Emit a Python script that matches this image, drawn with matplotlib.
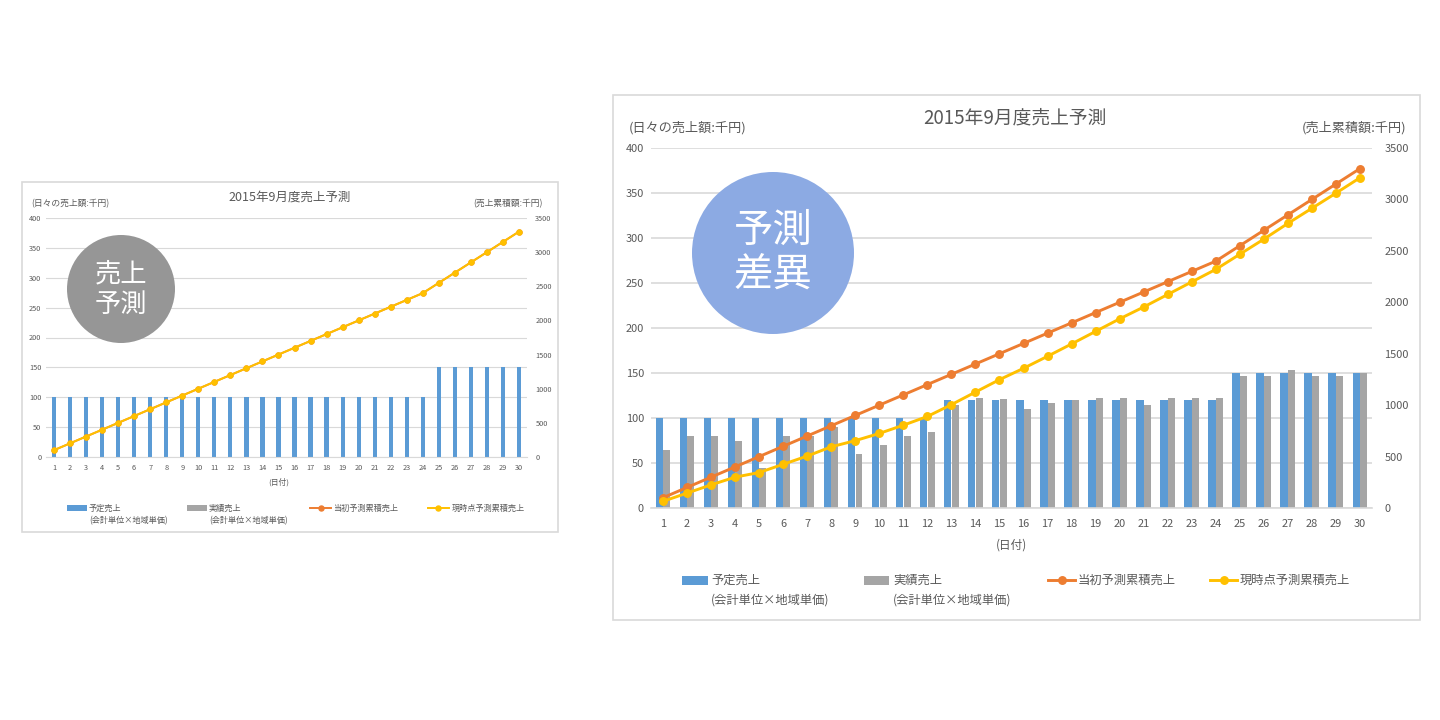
import matplotlib
matplotlib.use('Agg')
import matplotlib.pyplot as plt
from matplotlib.patches import Rectangle, Ellipse
from matplotlib.lines import Line2D

plt.rcParams['font.family'] = ['Noto Sans CJK JP', 'DejaVu Sans']

# ---------------- data ----------------
days = list(range(1, 31))
day_labels = [str(d) for d in days]

left_ticks = [0, 50, 100, 150, 200, 250, 300, 350, 400]
right_ticks = [0, 500, 1000, 1500, 2000, 2500, 3000, 3500]

# chart 1 (売上予測)
c1_planned = [100, 100, 100, 100, 100, 100, 100, 100, 100, 100, 100, 100,
              100, 100, 100, 100, 100, 100, 100, 100, 100, 100, 100, 100,
              150, 150, 150, 150, 150, 150]
c1_orig_cum = [100, 200, 300, 400, 500, 600, 700, 800, 900, 1000, 1100, 1200,
               1300, 1400, 1500, 1600, 1700, 1800, 1900, 2000, 2100, 2200, 2300, 2400,
               2550, 2700, 2850, 3000, 3150, 3300]
c1_curr_cum = [100, 200, 300, 400, 500, 600, 700, 800, 900, 1000, 1100, 1200,
               1300, 1400, 1500, 1600, 1700, 1800, 1900, 2000, 2100, 2200, 2300, 2400,
               2550, 2700, 2850, 3000, 3150, 3300]

# chart 2 (予測差異)
c2_planned = [100, 100, 100, 100, 100, 100, 100, 100, 100, 100, 100, 100,
              120, 120, 120, 120, 120, 120, 120, 120, 120, 120, 120, 120,
              150, 150, 150, 150, 150, 150]
c2_actual = [65, 80, 80, 75, 45, 80, 80, 90, 60, 70, 80, 85,
             115, 122, 121, 110, 117, 120, 122, 122, 115, 122, 122, 122,
             147, 147, 153, 147, 147, 150]
c2_orig_cum = [100, 200, 300, 400, 500, 600, 700, 800, 900, 1000, 1100, 1200,
               1300, 1400, 1500, 1600, 1700, 1800, 1900, 2000, 2100, 2200, 2300, 2400,
               2550, 2700, 2850, 3000, 3150, 3300]
c2_curr_cum = [65, 145, 225, 300, 345, 425, 505, 595, 655, 725, 805, 890,
               1005, 1127, 1248, 1358, 1475, 1595, 1717, 1839, 1954, 2076, 2198, 2320,
               2467, 2614, 2767, 2914, 3061, 3211]

title = '2015年9月度売上予測'
left_unit = '(日々の売上額:千円)'
right_unit = '(売上累積額:千円)'
x_title = '(日付)'
leg_main = ['予定売上', '実績売上', '当初予測累積売上', '現時点予測累積売上']
leg_sub = '(会計単位×地域単価)'
badge1 = '売上\n予測'
badge2 = '予測\n差異'

# ---------------- style ----------------
BLUE = '#5B9BD5'
GRAY = '#A5A5A5'
ORANGE = '#ED7D31'
YELLOW = '#FFC000'
TXT = '#595959'
GRID = '#D9D9D9'

W, H = 1440, 720
fig = plt.figure(figsize=(W / 100, H / 100), dpi=100)
fig.patch.set_facecolor('white')


def fx(x):
    return x / W


def fy(y):
    return 1 - y / H


def chart(frame, plot, s, planned, actual, orig_cum, curr_cum, badge, badge_c, badge_xy, badge_r,
          title_xy, lunit_xy, runit_xy, xt_y, leg):
    # frame
    fig.add_artist(Rectangle((fx(frame[0]), fy(frame[3])), fx(frame[2]) - fx(frame[0]),
                             fy(frame[1]) - fy(frame[3]), transform=fig.transFigure,
                             facecolor='white', edgecolor=GRID, lw=1.2, zorder=-1))
    x0, y0, x1, y1 = plot
    ax = fig.add_axes([fx(x0), fy(y1), fx(x1) - fx(x0), fy(y0) - fy(y1)])
    ax.set_xlim(0.5, 30.5)
    ax.set_ylim(0, 400)
    ax.set_yticks(left_ticks)
    ax.set_xticks(days)
    ax.set_xticklabels(day_labels)
    ax.set_facecolor('none')
    ax.yaxis.grid(True, color=GRID, lw=0.8 * s)
    ax.set_axisbelow(True)
    for sp in ['top', 'left', 'right']:
        ax.spines[sp].set_visible(False)
    ax.spines['bottom'].set_color(GRID)
    ax.spines['bottom'].set_linewidth(0.8 * s)
    fs = 5.3 * s
    ax.tick_params(axis='both', length=0, labelsize=fs, labelcolor=TXT)
    ax.tick_params(axis='x', pad=5.3 * s)
    ax.tick_params(axis='y', pad=3.3 * s)
    if actual is None:
        ax.bar(days, planned, width=0.26, color=BLUE, zorder=2)
    else:
        xs = [d - 0.155 for d in days]
        xa = [d + 0.155 for d in days]
        ax.bar(xs, planned, width=0.31, color=BLUE, zorder=2)
        ax.bar(xa, actual, width=0.29, color=GRAY, zorder=2)
    ax2 = ax.twinx()
    ax2.set_ylim(0, 3500)
    ax2.set_yticks(right_ticks)
    for sp in ax2.spines.values():
        sp.set_visible(False)
    ax2.tick_params(axis='y', length=0, labelsize=fs, labelcolor=TXT, pad=6 * s)
    ax2.plot(days, orig_cum, color=ORANGE, lw=1.4 * s, marker='o', ms=3.6 * s, zorder=3)
    ax2.plot(days, curr_cum, color=YELLOW, lw=1.4 * s, marker='o', ms=3.6 * s, zorder=4)

    fig.text(fx(title_xy[0]), fy(title_xy[1]), title, ha='center', va='center',
             fontsize=9 * s, color=TXT)
    fig.text(fx(lunit_xy[0]), fy(lunit_xy[1]), left_unit, ha='center', va='center',
             fontsize=6.3 * s, color=TXT)
    fig.text(fx(runit_xy[0]), fy(runit_xy[1]), right_unit, ha='center', va='center',
             fontsize=6.3 * s, color=TXT)
    fig.text(fx(xt_y[0]), fy(xt_y[1]), x_title, ha='center', va='center',
             fontsize=5.6 * s, color=TXT)

    # legend (manual)
    ly1, ly2, items = leg
    lfs = 5.9 * s
    for i, (hx0, hx1, tx) in enumerate(items):
        if i < 2:
            col = BLUE if i == 0 else GRAY
            fig.add_artist(Rectangle((fx(hx0), fy(ly1 + 3 * s)), fx(hx1) - fx(hx0), 6 * s / H,
                                     transform=fig.transFigure, facecolor=col, edgecolor='none'))
            fig.text(fx(tx), fy(ly1), leg_main[i], ha='left', va='center', fontsize=lfs, color=TXT)
            fig.text(fx(tx), fy(ly2), leg_sub, ha='left', va='center', fontsize=lfs, color=TXT)
        else:
            col = ORANGE if i == 2 else YELLOW
            fig.add_artist(Line2D([fx(hx0), fx(hx1)], [fy(ly1), fy(ly1)], transform=fig.transFigure,
                                  color=col, lw=1.4 * s))
            fig.add_artist(Line2D([fx((hx0 + hx1) / 2)], [fy(ly1)], transform=fig.transFigure,
                                  color=col, marker='o', ms=3.6 * s, lw=0))
            fig.text(fx(tx), fy(ly1), leg_main[i], ha='left', va='center', fontsize=lfs, color=TXT)

    # badge circle
    fig.add_artist(Ellipse((fx(badge_xy[0]), fy(badge_xy[1])), 2 * badge_r / W, 2 * badge_r / H,
                           transform=fig.transFigure, facecolor=badge_c, edgecolor='none', zorder=5))
    fig.text(fx(badge_xy[0]), fy(badge_xy[1]), badge, ha='center', va='center',
             fontsize=badge_r * 0.35, color='white', linespacing=1.15, zorder=6)
    return ax, ax2


# chart 1
chart(frame=(22, 182, 558, 532), plot=(46, 218, 527, 457), s=1.0,
      planned=c1_planned, actual=None, orig_cum=c1_orig_cum, curr_cum=c1_curr_cum,
      badge=badge1, badge_c='#969696', badge_xy=(121, 289), badge_r=54,
      title_xy=(290, 197), lunit_xy=(70, 204), runit_xy=(508, 204), xt_y=(279, 482),
      leg=(508, 521, [(67, 87, 89), (187, 207, 209), (310, 331, 333), (428, 449, 452)]))

# chart 2
chart(frame=(613, 95, 1420, 620), plot=(651, 148, 1372, 508), s=1.5,
      planned=c2_planned, actual=c2_actual, orig_cum=c2_orig_cum, curr_cum=c2_curr_cum,
      badge=badge2, badge_c='#8CAAE3', badge_xy=(773, 253), badge_r=81,
      title_xy=(1015, 118), lunit_xy=(688, 128), runit_xy=(1354, 128), xt_y=(1012, 545),
      leg=(580, 600, [(682, 708, 711), (864, 889, 893), (1048, 1075, 1078), (1210, 1237, 1240)]))

fig.savefig('out.png', dpi=100, facecolor='white')
